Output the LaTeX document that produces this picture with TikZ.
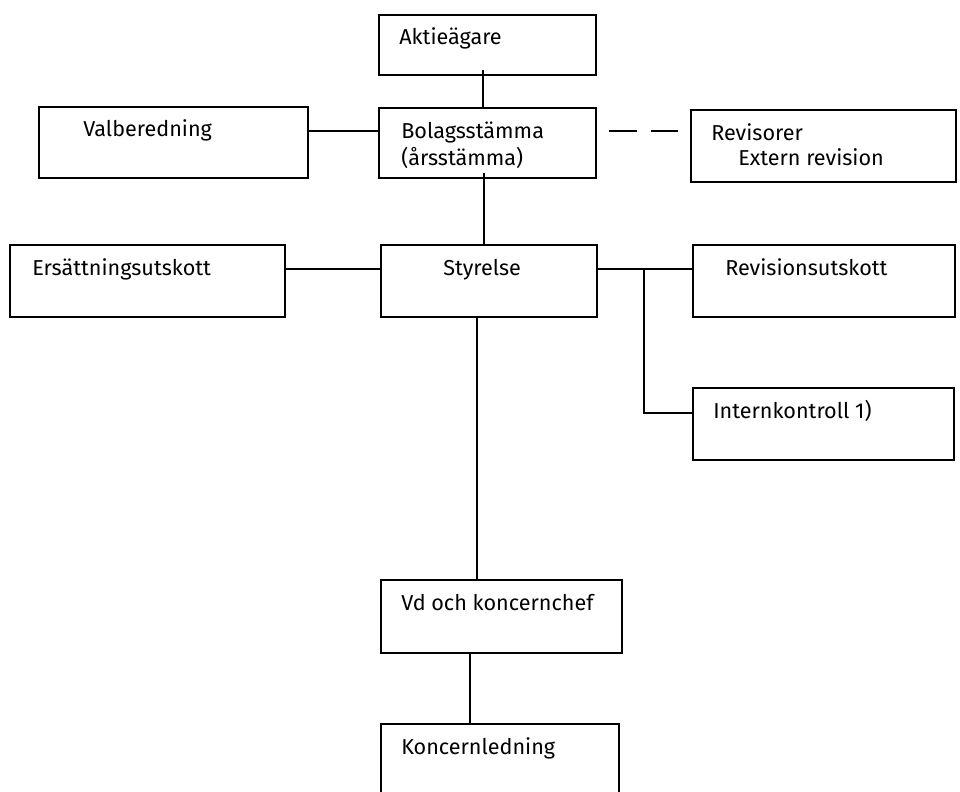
\documentclass[tikz,border=0pt]{standalone}
\usepackage{fontspec}
\setmainfont{Fira Sans}
\usetikzlibrary{positioning}

\begin{document}
\begin{tikzpicture}[
    x=0.75pt, y=-0.75pt,
    font=\fontsize{16.2}{20}\selectfont,
    box/.style={draw, line width=1.4pt, anchor=north west, inner sep=0pt,
      minimum height=54pt},
    txt/.style={anchor=base west, inner sep=0pt, xshift=#1, yshift=-23.25pt},
    txt/.default=15.75pt,
    link/.style={line width=1.4pt},
    gap/.style={link, dash pattern=on 21pt off 10.5pt, shorten <=9pt, shorten >=9pt}
  ]
    \useasboundingbox (0,0) rectangle (960,792);
    \clip (0,0) rectangle (960,792);

    \node[box, minimum width=162.75pt, minimum height=45pt,
      label={[txt]north west:Aktieägare}] (akt) at (378,14) {};
    \node[box, minimum width=162.75pt, minimum height=52.5pt,
      label={[txt=17.25pt]north west:Bolagsstämma},
      label={[txt=17.25pt, yshift=-20.25pt]north west:(årsstämma)}] (bol) at (378,107) {};
    \node[box, minimum width=201.75pt, minimum height=53.25pt,
      label={[txt=33.75pt]north west:Valberedning}] (val) at (38,106) {};
    \node[box, minimum width=198.75pt,
      label={[txt]north west:Revisorer},
      label={[txt=36pt, yshift=-18.75pt]north west:Extern revision}] (rev) at (690,109) {};

    \node[box, minimum width=162pt,
      label={[txt=47.25pt]north west:Styrelse}] (sty) at (380,244) {};
    \node[box, minimum width=206.25pt,
      label={[txt=17.25pt]north west:Ersättningsutskott}] (ers) at (9,244) {};
    \node[box, minimum width=196.5pt,
      label={[txt=24.75pt]north west:Revisionsutskott}] (ru) at (692,244) {};
    \node[box, minimum width=195.75pt,
      label={[txt]north west:Internkontroll 1)}] (ik) at (692,387) {};

    \node[box, minimum width=180.75pt, minimum height=54.75pt,
      label={[txt]north west:Vd och koncernchef}] (vd) at (380,579) {};
    \node[box, minimum width=178.5pt, minimum height=54.75pt,
      label={[txt]north west:Koncernledning}] (kl) at (380,723) {};

    \coordinate (fork) at (644,268);

    \draw[link] ([xshift=-3.4pt, yshift=4.5pt]akt.south) -- ([xshift=-3.4pt]akt.south |- bol.north);
    \draw[link] ([xshift=-2.6pt, yshift=4.5pt]bol.south) -- ([xshift=-2.6pt]bol.south |- sty.north);
    \draw[link] ([yshift=8.6pt]val.east) -- ([yshift=8.6pt]val.east -| bol.west);
    \draw[gap] ([yshift=9pt]bol.east) -- ([yshift=9pt]bol.east -| rev.west);
    \draw[link] ([yshift=9pt]ers.east) -- ([yshift=9pt]ers.east -| sty.west);
    \draw[link] ([yshift=9pt]sty.east) -- ([yshift=9pt]sty.east -| ru.west);
    \draw[link] (fork) |- ([yshift=8.25pt]ik.west);
    \draw[link] ([xshift=-9pt]sty.south) -- ([xshift=-9pt]sty.south |- vd.north);
    \draw[link] ([xshift=-23.6pt]vd.south) -- ([xshift=-23.6pt]vd.south |- kl.north);
  \end{tikzpicture}
\end{document}
